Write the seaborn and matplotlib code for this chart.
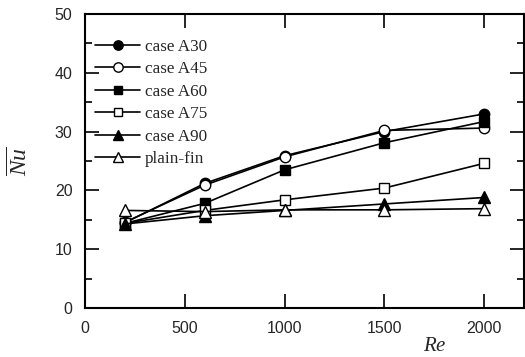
import matplotlib
matplotlib.use("Agg")
import matplotlib.pyplot as plt
import seaborn as sns
import pandas as pd

re_vals = [200, 600, 1000, 1500, 2000]
series_names = ["case A30", "case A45", "case A60", "case A75", "case A90", "plain-fin"]
a30 = [14.5, 21.2, 25.9, 30.0, 33.0]
a45 = [14.6, 20.9, 25.7, 30.2, 30.6]
a60 = [14.4, 17.8, 23.5, 28.1, 31.7]
a75 = [14.4, 16.6, 18.4, 20.4, 24.6]
a90 = [14.3, 15.7, 16.6, 17.7, 18.8]
plain = [16.6, 16.4, 16.7, 16.7, 16.9]
values = [a30, a45, a60, a75, a90, plain]

markers = ["o", "o", "s", "s", "^", "^"]
fills = ["black", "white", "black", "white", "black", "white"]
msizes = [7.5, 7.5, 7, 7, 8.5, 8.5]

sns.set_style("ticks")
plt.rcParams["mathtext.fontset"] = "custom"
plt.rcParams["mathtext.it"] = "Liberation Serif:italic"
plt.rcParams["mathtext.rm"] = "Liberation Serif"

fig = plt.figure(figsize=(5.25, 3.57), dpi=100)
ax = fig.add_axes([0.162, 0.137, 0.836, 0.824])

for name, vals, m, fc, ms in zip(series_names, values, markers, fills, msizes):
    df = pd.DataFrame({"Re": re_vals, "Nu": vals})
    sns.lineplot(data=df, x="Re", y="Nu", ax=ax, color="black", linewidth=1.2,
                 marker=m, markerfacecolor=fc, markeredgecolor="black",
                 markersize=ms, markeredgewidth=1.0, label=name)

ax.set_xlim(0, 2200)
ax.set_ylim(0, 50)
ax.set_xticks([0, 500, 1000, 1500, 2000])
ax.set_yticks([0, 10, 20, 30, 40, 50])
ax.set_yticks([5, 15, 25, 35, 45], minor=True)
ax.tick_params(which="both", direction="in", top=True, right=True, color="black", width=1.2)
ax.tick_params(which="major", length=10, labelsize=11.5, pad=9)
ax.tick_params(which="minor", length=5)
for lab in ax.get_xticklabels() + ax.get_yticklabels():
    lab.set_family("Liberation Sans")
for sp in ax.spines.values():
    sp.set_linewidth(1.5)
    sp.set_color("black")

ax.set_xlabel("")
ax.set_ylabel("")
fig.text(0.828, 0.035, "$Re$", fontsize=15, ha="center", va="center")
fig.text(0.038, 0.55, r"$\overline{Nu}$", fontsize=17, ha="center", va="center", rotation=90)

leg = ax.legend(loc="upper left", bbox_to_anchor=(0.0, 0.95), frameon=False,
                prop={"family": "Liberation Serif", "size": 12.3},
                handlelength=2.6, handletextpad=0.3, labelspacing=0.38,
                borderaxespad=0.3, borderpad=0.3, markerscale=0.9)

fig.savefig("out.png", dpi=100)
